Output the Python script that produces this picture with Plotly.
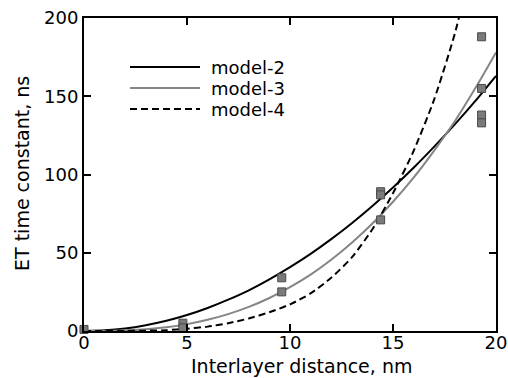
import plotly.graph_objects as go

# Measured data points
exp_x = [0, 4.8, 4.8, 9.6, 9.6, 14.4, 14.4, 14.4, 19.3, 19.3, 19.3, 19.3]
exp_y = [1, 5, 2, 34, 25, 89, 87, 71, 188, 155, 138, 133]

# Model curves
model_x = [0, 1, 2, 3, 4, 5, 6, 7, 8, 9, 10, 11, 12, 13, 14, 15, 16, 17, 18, 19, 20]
model2_y = [0, 0.4, 1.6, 3.7, 6.5, 10.2, 14.7, 20, 26, 33, 40.8, 49.3, 58.7, 68.9,
            79.9, 91.7, 104.3, 117.8, 132, 147, 163]
model3_y = [0, 0.06, 0.4, 1.1, 2.4, 4.4, 7.2, 10.8, 15.4, 21.1, 28, 36, 45.5, 56.4,
            68.7, 82.6, 98, 115.3, 134, 155.2, 178]
model4_y = [0, 0.01, 0.05, 0.2, 0.5, 1.5, 2.8, 5, 8, 12, 17, 24, 34, 47,
            65, 88, 115, 148, 190, 245, 310]

legend_names = ["model-2", "model-3", "model-4"]

x_ticks = [0, 5, 10, 15, 20]
y_ticks = [0, 50, 100, 150, 200]

FONT = "DejaVu Sans"
styles = [dict(color="black", width=2, dash="solid"),
          dict(color="#858585", width=2, dash="solid"),
          dict(color="black", width=2, dash="7px,4px")]

fig = go.Figure()
for ys, st, nm in zip([model2_y, model3_y, model4_y], styles, legend_names):
    fig.add_trace(go.Scatter(x=model_x, y=ys, mode="lines", name=nm,
                             line=dict(shape="spline", smoothing=0.6, **st),
                             showlegend=False))

fig.add_trace(go.Scatter(x=exp_x, y=exp_y, mode="markers", showlegend=False,
                         marker=dict(symbol="square", size=8, color="#7a7a7a",
                                     line=dict(color="#4a4a4a", width=1)),
                         cliponaxis=False))

# custom legend (long line samples like the reference)
L, R, T, B = 84, 496, 18, 331
def px_to_paper(px, py):
    return (px - L) / (R - L), (B - py) / (B - T)

rows = [67, 88, 109]
for nm, st, py in zip(legend_names, styles, rows):
    x0, y0 = px_to_paper(130, py)
    x1, _ = px_to_paper(200, py)
    fig.add_shape(type="line", xref="paper", yref="paper", x0=x0, x1=x1, y0=y0, y1=y0,
                  line=dict(color=st["color"], width=st["width"], dash=st["dash"]))
    tx, _ = px_to_paper(209, py)
    fig.add_annotation(x=tx, y=y0, xref="paper", yref="paper", text=nm,
                       showarrow=False, xanchor="left", yanchor="middle",
                       font=dict(family=FONT, size=18, color="black"))

# axis titles placed as in the reference
tx, ty = px_to_paper(301, 366)
fig.add_annotation(x=tx, y=ty, xref="paper", yref="paper", text="Interlayer distance, nm",
                   showarrow=False, xanchor="center", yanchor="middle",
                   font=dict(family=FONT, size=19, color="black"))
tx, ty = px_to_paper(22, 174)
fig.add_annotation(x=tx, y=ty, xref="paper", yref="paper", text="ET time constant, ns",
                   showarrow=False, xanchor="center", yanchor="middle", textangle=-90,
                   font=dict(family=FONT, size=19, color="black"))

axis_common = dict(showline=True, linecolor="black", linewidth=2, mirror="ticks",
                   ticks="inside", ticklen=7, tickwidth=1.5, tickcolor="black",
                   showgrid=False, zeroline=False, automargin=False,
                   tickfont=dict(family=FONT, size=18, color="black"))

fig.update_layout(
    width=508, height=378,
    margin=dict(l=84, r=12, t=18, b=47, autoexpand=False),
    paper_bgcolor="white", plot_bgcolor="white",
    xaxis=dict(range=[0, 20], tickvals=x_ticks, ticktext=[str(v) for v in x_ticks],
               ticklabelstandoff=-6, **axis_common),
    yaxis=dict(range=[0, 200], tickvals=y_ticks, ticktext=[str(v) for v in y_ticks],
               **axis_common),
)

fig.write_html("out.html")
